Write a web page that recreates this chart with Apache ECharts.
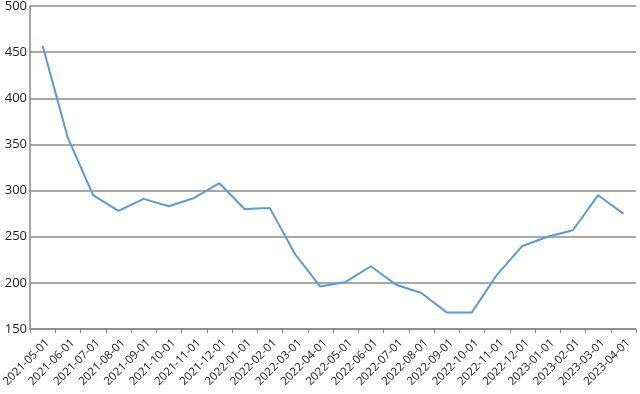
<!DOCTYPE html>
<html>
<head>
<meta charset="utf-8">
<script src="https://cdn.jsdelivr.net/npm/echarts@6/dist/echarts.min.js"></script>
<style>html,body{margin:0;padding:0;background:#fff;}#c{width:640px;height:394px;}</style>
</head>
<body>
<div id="c"></div>
<script>
const categories = ['2021-05-01','2021-06-01','2021-07-01','2021-08-01','2021-09-01','2021-10-01','2021-11-01','2021-12-01','2022-01-01','2022-02-01','2022-03-01','2022-04-01','2022-05-01','2022-06-01','2022-07-01','2022-08-01','2022-09-01','2022-10-01','2022-11-01','2022-12-01','2023-01-01','2023-02-01','2023-03-01','2023-04-01'];
const values = [457,357,295,278,291,283,292,308,280,281,231,196,201,218,198,189,168,168,209,240,250,257,295,275];
const yMin = 150, yMax = 500, yStep = 50;

const chart = echarts.init(document.getElementById('c'));
chart.setOption({
  animation: false,
  grid: {left: 30, right: 4, top: 6, bottom: 65, containLabel: false, outerBoundsMode: 'none'},
  xAxis: {
    type: 'category',
    data: categories,
    boundaryGap: true,
    axisLine: {lineStyle: {color: '#868686', width: 1.5}},
    axisTick: {show: true, length: 4, lineStyle: {color: '#868686', width: 1}},
    axisLabel: {rotate: 45, interval: 0, color: '#222', fontSize: 11.5, fontFamily: 'Open Sans', margin: 17, padding: [0, -7, 0, 0]}
  },
  yAxis: {
    type: 'value',
    min: yMin, max: yMax, interval: yStep,
    axisLine: {show: true, lineStyle: {color: '#868686', width: 1.5}},
    axisTick: {show: false},
    splitLine: {lineStyle: {color: '#8c8c8c', width: 1.5}},
    axisLabel: {color: '#222', fontSize: 13, fontFamily: 'Open Sans', margin: 3}
  },
  series: [{
    type: 'line',
    data: values,
    symbol: 'none',
    lineStyle: {color: '#5B9BD5', width: 2}
  }]
});
</script>
</body>
</html>
